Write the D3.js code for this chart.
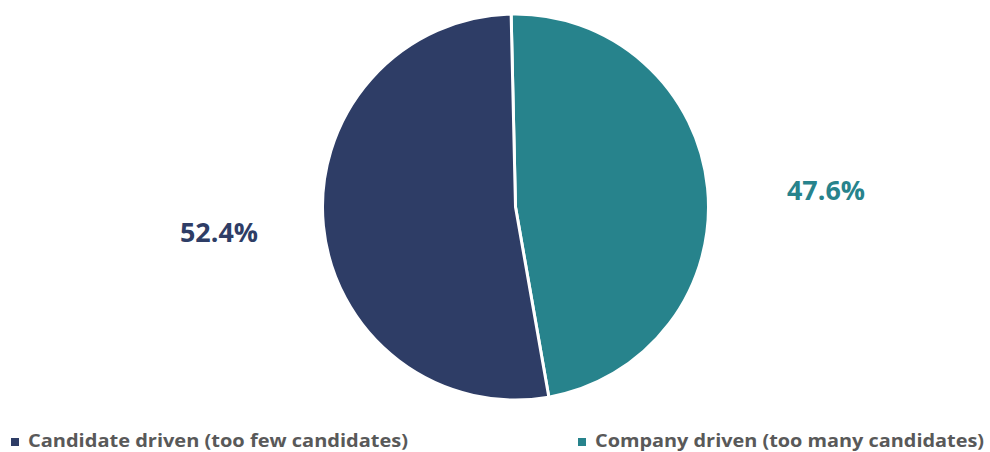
<!DOCTYPE html>
<html><head><meta charset="utf-8">
<script src="https://cdn.jsdelivr.net/npm/d3@7"></script>
<style>body{margin:0;background:#fff;}svg{display:block;}</style>
</head><body>
<svg id="chart" width="990" height="452"></svg>
<script>
const categories = ["Company driven (too many candidates)", "Candidate driven (too few candidates)"];
const values = [47.6, 52.4];
const legendOrder = ["Candidate driven (too few candidates)", "Company driven (too many candidates)"];
const colors = ["#27838C", "#2E3D66"];

const svg = d3.select("#chart");
const cx = 515.5, cy = 207, r = 193;
const color = d3.scaleOrdinal().domain(categories).range(colors);
const offset = -1.3 * Math.PI / 180;
const pie = d3.pie().sort(null).value(d => d.v).startAngle(offset).endAngle(2 * Math.PI + offset);
const data = pie(categories.map((c, i) => ({c, v: values[i]})));
const arc = d3.arc().innerRadius(0).outerRadius(r);
const g = svg.append("g").attr("transform", `translate(${cx},${cy})`);
g.selectAll("path").data(data).enter().append("path")
  .attr("d", arc).attr("fill", d => color(d.data.c))
  .attr("stroke", "#fff").attr("stroke-width", 3).attr("stroke-linejoin", "round");

// labels
const labelPos = [[826, 190], [219, 232]];
svg.selectAll("text.lbl").data(data).enter().append("text")
  .attr("class", "lbl")
  .attr("x", (d, i) => labelPos[i][0]).attr("y", (d, i) => labelPos[i][1])
  .attr("text-anchor", "middle").attr("dominant-baseline", "central")
  .attr("font-family", "'Open Sans', sans-serif").attr("font-weight", "bold")
  .attr("font-size", 26).attr("textLength", 78).attr("lengthAdjust", "spacingAndGlyphs")
  .attr("fill", d => color(d.data.c))
  .text(d => d.data.v.toFixed(1) + "%");

// legend
const legX = [11, 578];
const legW = [380, 389];
const lg = svg.selectAll("g.leg").data(legendOrder).enter().append("g")
  .attr("class", "leg").attr("transform", (d, i) => `translate(${legX[i]},0)`);
lg.append("rect").attr("x", 0).attr("y", 438).attr("width", 8).attr("height", 8)
  .attr("fill", d => color(d));
lg.append("text").attr("x", 17).attr("y", 447)
  .attr("font-family", "'Open Sans', sans-serif").attr("font-weight", "bold")
  .attr("font-size", 18).attr("textLength", (d, i) => legW[i]).attr("lengthAdjust", "spacingAndGlyphs")
  .attr("fill", "#595959").text(d => d);
</script>
</body></html>
